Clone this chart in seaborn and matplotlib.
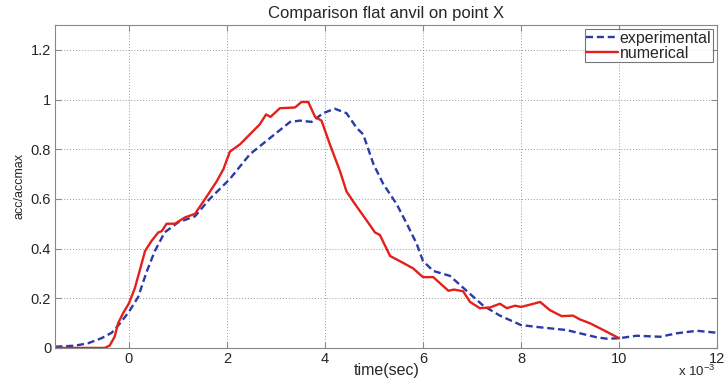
import numpy as np
import pandas as pd
import matplotlib
matplotlib.use("Agg")
import matplotlib.pyplot as plt
import matplotlib.ticker as mticker
import seaborn as sns

# time in ms (scaled by 1e-3 below), acc/accmax
exp_t = [-1.5, -1.1, -0.83, -0.56, -0.35, -0.18, 0.0, 0.19, 0.36, 0.53, 0.73, 1.0, 1.35,
         1.65, 2.06, 2.47, 2.88, 3.29, 3.49, 3.73, 3.96, 4.2, 4.44, 4.65, 4.78, 4.99,
         5.19, 5.46, 5.67, 5.87, 6.0, 6.21, 6.55, 6.89, 7.23, 7.57, 8.0, 8.39, 8.93,
         9.2, 9.54, 9.75, 10.0, 10.36, 10.84, 11.18, 11.59, 12.0]
exp_y = [0.005, 0.009, 0.019, 0.039, 0.061, 0.099, 0.145, 0.205, 0.305, 0.39, 0.465,
         0.505, 0.53, 0.6, 0.68, 0.78, 0.845, 0.91, 0.915, 0.91, 0.945, 0.963, 0.945,
         0.885, 0.86, 0.74, 0.66, 0.58, 0.5, 0.42, 0.35, 0.31, 0.29, 0.23, 0.17, 0.13,
         0.092, 0.083, 0.072, 0.059, 0.043, 0.037, 0.039, 0.049, 0.045, 0.059, 0.069,
         0.061]

num_t = [-1.5, -0.49, -0.39, -0.29, -0.22, -0.12, 0.0, 0.12, 0.22, 0.33, 0.46, 0.6,
         0.67, 0.77, 0.94, 1.14, 1.35, 1.59, 1.79, 1.93, 2.06, 2.27, 2.47, 2.67, 2.8,
         2.89, 3.08, 3.39, 3.52, 3.66, 3.8, 3.93, 4.1, 4.31, 4.44, 4.61, 4.88, 5.02,
         5.12, 5.33, 5.57, 5.8, 6.0, 6.21, 6.35, 6.52, 6.63, 6.82, 6.96, 7.16, 7.37,
         7.57, 7.71, 7.88, 8.0, 8.22, 8.39, 8.59, 8.83, 9.06, 9.2, 9.41, 9.68, 10.0]
num_y = [0.0, 0.0, 0.01, 0.045, 0.099, 0.139, 0.179, 0.239, 0.31, 0.39, 0.43, 0.465,
         0.47, 0.5, 0.5, 0.525, 0.54, 0.61, 0.67, 0.72, 0.79, 0.82, 0.86, 0.9, 0.94,
         0.93, 0.965, 0.968, 0.99, 0.99, 0.93, 0.915, 0.82, 0.71, 0.63, 0.58, 0.505,
         0.465, 0.455, 0.37, 0.345, 0.32, 0.285, 0.285, 0.26, 0.23, 0.235, 0.228,
         0.185, 0.16, 0.163, 0.178, 0.16, 0.17, 0.165, 0.176, 0.185, 0.152, 0.128,
         0.13, 0.115, 0.099, 0.072, 0.039]

df = pd.concat([
    pd.DataFrame({"t": np.array(exp_t) * 1e-3, "y": exp_y, "series": "experimental"}),
    pd.DataFrame({"t": np.array(num_t) * 1e-3, "y": num_y, "series": "numerical"}),
])

sns.set_style("white")
plt.rcParams["font.family"] = ["Liberation Sans", "DejaVu Sans"]
plt.rcParams["mathtext.fontset"] = "custom"
plt.rcParams["mathtext.rm"] = "Liberation Sans"

fig, ax = plt.subplots(figsize=(7.28, 3.79), dpi=100)
fig.subplots_adjust(left=0.076, right=0.985, top=0.934, bottom=0.082)

sns.lineplot(data=df, x="t", y="y", hue="series", style="series",
             palette={"experimental": "#2a3aa8", "numerical": "#e3201c"},
             dashes={"experimental": (3, 1.6), "numerical": ""},
             linewidth=1.7, ax=ax, sort=False)

ax.set_xlim(-1.5e-3, 12e-3)
ax.set_ylim(0, 1.3)
ax.set_xticks(np.arange(0, 12.1, 2) * 1e-3)
ax.set_yticks([0, 0.2, 0.4, 0.6, 0.8, 1.0, 1.2])
ax.set_yticklabels(["0", "0.2", "0.4", "0.6", "0.8", "1", "1.2"])
fmt = mticker.ScalarFormatter()
fmt.set_powerlimits((-3, -3))
ax.xaxis.set_major_formatter(fmt)
ax.xaxis.get_offset_text().set_visible(False)
fig.text(0.983, 0.0, r"x 10$^{-3}$", ha="right", va="bottom", fontsize=9.5)

ax.grid(True, linestyle=(0, (1, 2)), color="#999999", linewidth=0.7)
for s in ax.spines.values():
    s.set_color("#888888")
    s.set_linewidth(0.8)
ax.tick_params(direction="in", length=4, color="#888888", labelsize=10.5,
               top=True, right=True, bottom=True, left=True, pad=3)

ax.set_title("Comparison flat anvil on point X", fontsize=12, pad=5)
ax.set_xlabel("time(sec)", fontsize=11.5, labelpad=-2)
ax.set_ylabel("acc/accmax", fontsize=9, labelpad=4)

leg = ax.legend(loc="upper right", fontsize=11.5, frameon=True, fancybox=False,
                borderpad=0.1, handlelength=2.0, handletextpad=0.1,
                labelspacing=0.0, borderaxespad=0.25)
leg.get_frame().set_edgecolor("#555555")
leg.get_frame().set_linewidth(0.8)

fig.savefig("out.png", dpi=100)
